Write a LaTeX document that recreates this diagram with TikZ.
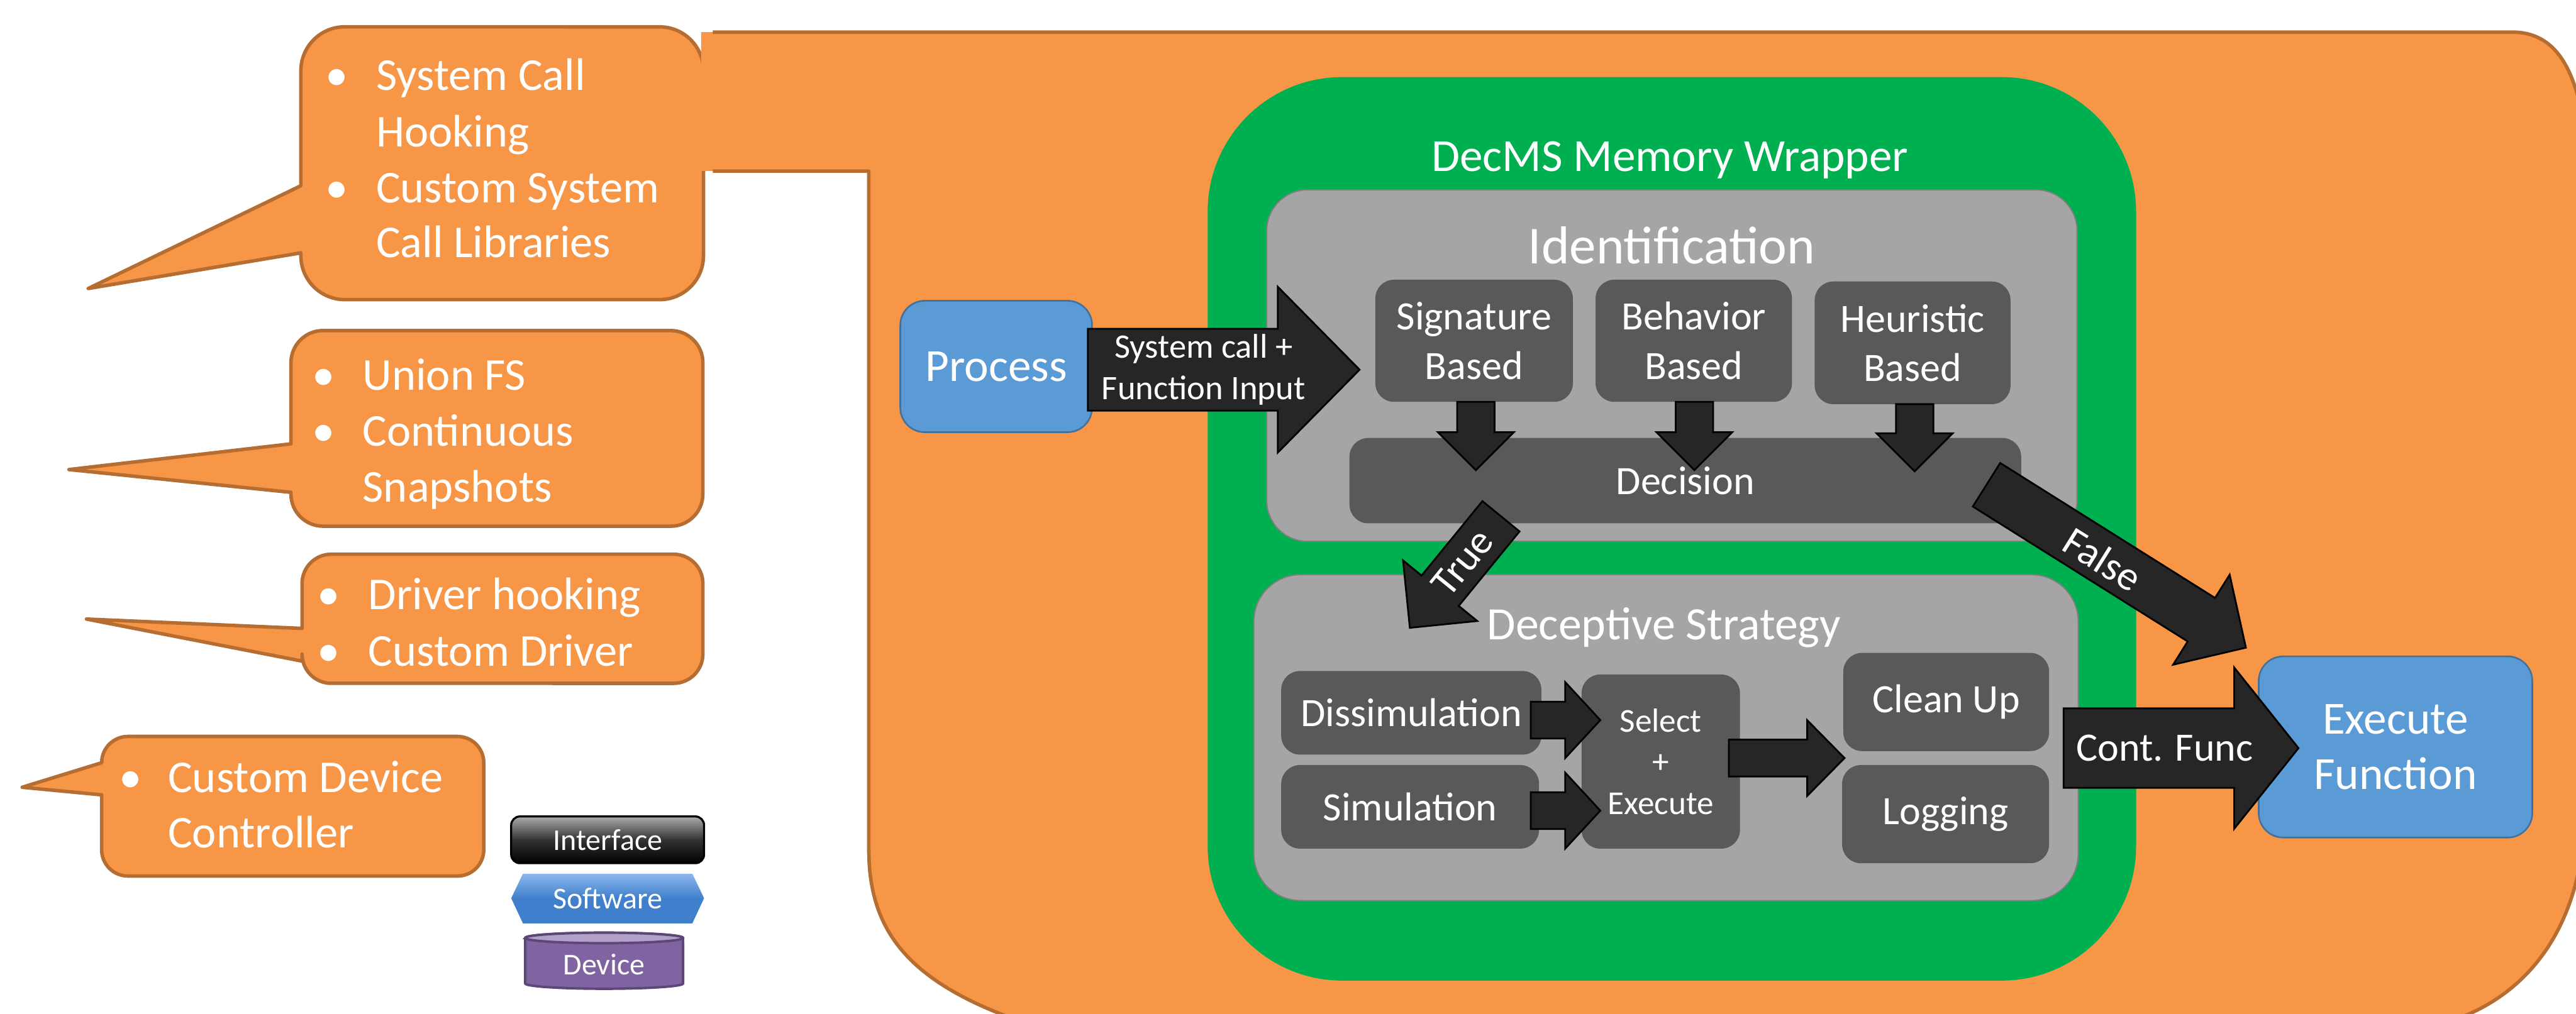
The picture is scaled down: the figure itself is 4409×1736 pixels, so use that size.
\documentclass[tikz,border=0pt]{standalone}
\usepackage{fontspec}
\setmainfont{Carlito}
\usetikzlibrary{calc}
\definecolor{orfill}{HTML}{F79646}
\definecolor{orline}{HTML}{B66D31}
\definecolor{grn}{HTML}{00B050}
\definecolor{lgray}{HTML}{A5A5A5}
\definecolor{lgline}{HTML}{7F7F7F}
\definecolor{dgray}{HTML}{595959}
\definecolor{arr}{HTML}{262626}
\definecolor{blu}{HTML}{5B9BD5}
\definecolor{bluline}{HTML}{41719C}
\definecolor{sw}{HTML}{3F7FCB}
\definecolor{swtop}{HTML}{8DB7EE}
\definecolor{dev}{HTML}{8064A2}
\definecolor{devline}{HTML}{5C4778}
\definecolor{devtop}{HTML}{B1A0C7}
\newcommand{\fs}[2]{\fontsize{#1}{#2}\selectfont}
% block arrow: from, to, half shaft, half head, head length
\newcommand{\blkarrow}[5]{%
  \coordinate (tmpH) at ($(#2)!#5!(#1)$);
  \draw[blockarrow] ($(#1)!#3!90:(#2)$) -- ($(tmpH)!#3!90:(#2)$) -- ($(tmpH)!#4!90:(#2)$) -- (#2)
     -- ($(tmpH)!#4!-90:(#2)$) -- ($(tmpH)!#3!-90:(#2)$) -- ($(#1)!#3!-90:(#2)$) -- cycle;}
\tikzset{
  callout/.style={fill=orfill, draw=orline, line width=1.7pt, line join=round},
  cotext/.style={text=white, font=\fs{22.2}{27}, inner sep=0pt, anchor=base west},
  bul/.style={text=white, font=\fs{22.2}{27}, inner sep=0pt, anchor=base},
  bluebox/.style={fill=blu, draw=bluline, line width=0.8pt, rounded corners=0.42cm, text=white, font=\fs{22.4}{27}, align=center, inner sep=0pt},
  dbox/.style={fill=dgray, draw=none, rounded corners=0.32cm, text=white, font=\fs{19.6}{24}, align=center, inner sep=0pt},
  gbox/.style={fill=lgray, draw=lgline, line width=0.6pt},
  blockarrow/.style={fill=arr, draw=black, line width=0.85pt, line join=miter},
  wtext/.style={text=white, inner sep=0pt},
}
\begin{document}
\begin{tikzpicture}[x=0.01cm, y=-0.01cm]
\useasboundingbox (0,0) rectangle (4409,1736);
\clip (0,0) rectangle (4409,1736);
\fill[white] (0,0) rectangle (4409,1736);

% ---- callout 1 (joined to the big shape)
\draw[callout] (515,433) -- (151,494) -- (515,318) -- (515,121) arc[start angle=180,end angle=90,radius=0.75cm]
  -- (1129,46) arc[start angle=90,end angle=0,radius=0.75cm] -- (1204,438) arc[start angle=0,end angle=-90,radius=0.75cm]
  -- (590,513) arc[start angle=270,end angle=180,radius=0.75cm] -- cycle;

% ---- big orange shape
\fill[orfill] (1200,55) -- (4300,55) .. controls (4375,55) and (4405,120) .. (4420,200) -- (4420,1450)
  .. controls (4400,1620) and (4300,1730) .. (4150,1760) -- (1780,1760)
  .. controls (1560,1690) and (1487,1600) .. (1487,1454) -- (1487,293) -- (1200,293) -- cycle;
\draw[orline, line width=1.7pt, line join=round] (1220,55) -- (4300,55) .. controls (4375,55) and (4405,120) .. (4420,200) -- (4420,1450)
  .. controls (4400,1620) and (4300,1730) .. (4150,1760) -- (1780,1760)
  .. controls (1560,1690) and (1487,1600) .. (1487,1454) -- (1487,293) -- (1220,293);

% ---- callout 2
\draw[callout] (498,843) -- (118,804) -- (498,760) -- (498,621) arc[start angle=180,end angle=90,radius=0.55cm]
  -- (1148,566) arc[start angle=90,end angle=0,radius=0.55cm] -- (1203,846) arc[start angle=0,end angle=-90,radius=0.55cm]
  -- (553,901) arc[start angle=270,end angle=180,radius=0.55cm] -- cycle;
% ---- callout 3
\draw[callout] (517,1132) -- (148,1060) -- (517,1076) -- (517,999) arc[start angle=180,end angle=90,radius=0.5cm]
  -- (1153,949) arc[start angle=90,end angle=0,radius=0.5cm] -- (1203,1120) arc[start angle=0,end angle=-90,radius=0.5cm]
  -- (567,1170) arc[start angle=270,end angle=180,radius=0.5cm] -- cycle;
% ---- callout 4
\draw[callout] (174,1361) -- (38,1348) -- (174,1306) -- (174,1306) arc[start angle=180,end angle=90,radius=0.45cm]
  -- (783,1261) arc[start angle=90,end angle=0,radius=0.45cm] -- (828,1455) arc[start angle=0,end angle=-90,radius=0.45cm]
  -- (219,1500) arc[start angle=270,end angle=180,radius=0.45cm] -- cycle;

% callout texts
\node[bul] (b1) at (577,155) {•};
\node[cotext] (c1a) at (643,155) {System Call};
\node[cotext] (c1b) at (643,251) {Hooking};
\node[bul] (b2) at (577,347) {•};
\node[cotext] (c1c) at (643,347) {Custom System};
\node[cotext] (c1d) at (643,441) {Call Libraries};
\node[bul] (b3) at (554,668) {•};
\node[cotext] (c2a) at (620,668) {Union FS};
\node[bul] (b4) at (554,764) {•};
\node[cotext] (c2b) at (620,764) {Continuous};
\node[cotext] (c2c) at (620,859) {Snapshots};
\node[bul] (b5) at (563,1044) {•};
\node[cotext] (c3a) at (630,1044) {Driver hooking};
\node[bul] (b6) at (563,1140) {•};
\node[cotext] (c3b) at (630,1140) {Custom Driver};
\node[bul] (b7) at (223,1357) {•};
\node[cotext] (c4a) at (287,1357) {Custom Device};
\node[cotext] (c4b) at (287,1452) {Controller};

% ---- legend
\node[draw=black, line width=1pt, rounded corners=0.15cm, top color=gray!65, bottom color=black, middle color=black!80,
  minimum width=3.3cm, minimum height=0.8cm, inner sep=0pt, text=white, font=\fs{14.7}{17}] (iface) at (1040,1438) {Interface};
\shade[top color=swtop, bottom color=sw, middle color=sw] (895,1496) -- (1185,1496) -- (1205,1538) -- (1185,1581) -- (895,1581) -- (875,1538) -- cycle;
\node[wtext, font=\fs{14.7}{17}] (softw) at (1040,1538) {Software};
\draw[fill=dev, draw=devline, line width=1.2pt] (899,1606) -- (899,1684) arc[start angle=180,end angle=360,x radius=1.35cm,y radius=0.09cm]
  -- (1169,1606) arc[start angle=0,end angle=180,x radius=1.35cm,y radius=0.09cm] -- cycle;
\draw[fill=devtop, draw=devline, line width=1.2pt] (1034,1606) ellipse[x radius=1.35cm, y radius=0.09cm];
\node[wtext, font=\fs{14.7}{17}] (devc) at (1034,1651) {Device};

% ---- green wrapper
\fill[grn, rounded corners=2.3cm] (2067,132) rectangle (3656,1679);
\node[wtext, anchor=base, font=\fs{22.4}{27}] (wrap) at (2858,293) {DecMS Memory Wrapper};

% ---- identification
\draw[gbox, rounded corners=0.7cm] (2168,325) rectangle (3555,927);
\node[wtext, anchor=base, font=\fs{26}{30}] (ident) at (2861,452) {Identification};
\node[dbox, minimum width=3.38cm, minimum height=2.09cm] (sig) at (2523,583.5) {Signature\\Based};
\node[dbox, minimum width=3.36cm, minimum height=2.09cm] (beh) at (2899,583.5) {Behavior\\Based};
\node[dbox, minimum width=3.35cm, minimum height=2.10cm] (heu) at (3273.5,587) {Heuristic\\Based};
\node[dbox, minimum width=11.49cm, minimum height=1.46cm] (dec) at (2884.5,823) {Decision};

% ---- deceptive strategy
\draw[gbox, rounded corners=0.8cm] (2146,984) rectangle (3557,1542);
\node[wtext, anchor=base, font=\fs{22.6}{27}] (decs) at (2848,1095) {Deceptive Strategy};
\node[dbox, minimum width=4.45cm, minimum height=1.43cm] (dis) at (2415.5,1220.5) {Dissimulation};
\node[dbox, minimum width=4.41cm, minimum height=1.43cm] (sim) at (2413.5,1381.5) {Simulation};
\node[dbox, minimum width=2.71cm, minimum height=2.98cm, font=\fs{16.3}{20}] (sel) at (2842.5,1304) {Select\\+\\Execute};
\node[dbox, minimum width=3.52cm, minimum height=1.68cm] (cln) at (3331,1202) {Clean Up};
\node[dbox, minimum width=3.54cm, minimum height=1.68cm] (log) at (3330,1394) {Logging};

% ---- blue boxes
\node[bluebox, minimum width=3.28cm, minimum height=2.25cm] (proc) at (1705,627.5) {Process};
\node[bluebox, minimum width=4.68cm, minimum height=3.10cm] (exec) at (4100,1279) {Execute\\Function};

% ---- arrows
\coordinate (a1s) at (1862,633);  \coordinate (a1e) at (2327,633);
\blkarrow{a1s}{a1e}{0.70cm}{1.42cm}{1.40cm}
\node[wtext, align=center, font=\fs{16.7}{20}] (a1t) at (2060,633) {System call +\\Function Input};

\coordinate (d1s) at (2526,688);  \coordinate (d1e) at (2526,805);
\coordinate (d2s) at (2900,688);  \coordinate (d2e) at (2900,805);
\coordinate (d3s) at (3277,692);  \coordinate (d3e) at (3277,807);
\blkarrow{d1s}{d1e}{0.32cm}{0.65cm}{0.65cm}
\blkarrow{d2s}{d2e}{0.32cm}{0.65cm}{0.65cm}
\blkarrow{d3s}{d3e}{0.32cm}{0.65cm}{0.65cm}

\coordinate (ts) at (2569,884);  \coordinate (te) at (2413,1075);
\blkarrow{ts}{te}{0.41cm}{0.82cm}{0.82cm}
\node[wtext, rotate=51, font=\fs{19.6}{24}] (tt) at (2503,963) {True};

\coordinate (fs) at (3400,830);  \coordinate (fe) at (3844,1109);
\blkarrow{fs}{fe}{0.44cm}{0.91cm}{0.90cm}
\node[wtext, rotate=-32, font=\fs{20}{24}] (ft) at (3599,958) {False};

\coordinate (e1s) at (2620,1233);  \coordinate (e1e) at (2739,1233);
\coordinate (e2s) at (2620,1388);  \coordinate (e2e) at (2739,1388);
\coordinate (e3s) at (2959,1298);  \coordinate (e3e) at (3157,1298);
\blkarrow{e1s}{e1e}{0.315cm}{0.65cm}{0.60cm}
\blkarrow{e2s}{e2e}{0.315cm}{0.65cm}{0.60cm}
\blkarrow{e3s}{e3e}{0.315cm}{0.65cm}{0.64cm}

\coordinate (cs) at (3532,1281);  \coordinate (ce) at (3934,1281);
\blkarrow{cs}{ce}{0.68cm}{1.38cm}{1.10cm}
\node[wtext, font=\fs{19.6}{24}] (ctt) at (3705,1281) {Cont. Func};
\end{tikzpicture}
\end{document}
